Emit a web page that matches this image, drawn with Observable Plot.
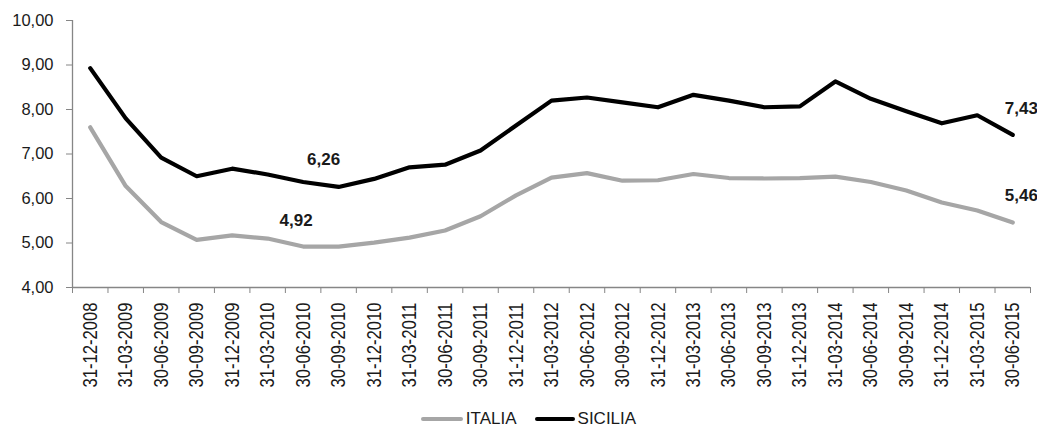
<!DOCTYPE html>
<html>
<head>
<meta charset="utf-8">
<script src="https://cdn.jsdelivr.net/npm/d3@7"></script>
<script src="https://cdn.jsdelivr.net/npm/@observablehq/plot@0.6"></script>
<style>
  html, body { margin: 0; padding: 0; background: #fff; }
  #chart { width: 1037px; }
  .legend { width: 1037px; height: 29px; display: flex; justify-content: center; align-items: center;
            padding-left: 20px; box-sizing: border-box; font-family: "Liberation Sans", Arial, sans-serif;
            font-size: 17px; color: #1a1a1a; }
  .legend .item { display: flex; align-items: center; }
  .legend .swatch { display: inline-block; height: 4px; margin-right: 3px; border-radius: 2px; }
</style>
</head>
<body>
<div id="chart"></div>
<script>
const dates = ["31-12-2008","31-03-2009","30-06-2009","30-09-2009","31-12-2009","31-03-2010","30-06-2010","30-09-2010","31-12-2010","31-03-2011","30-06-2011","30-09-2011","31-12-2011","31-03-2012","30-06-2012","30-09-2012","31-12-2012","31-03-2013","30-06-2013","30-09-2013","31-12-2013","31-03-2014","30-06-2014","30-09-2014","31-12-2014","31-03-2015","30-06-2015"];
const sicilia = [8.93,7.80,6.92,6.50,6.67,6.54,6.37,6.26,6.44,6.70,6.76,7.08,7.64,8.20,8.27,8.16,8.05,8.33,8.20,8.05,8.07,8.63,8.24,7.96,7.69,7.87,7.43];
const italia = [7.60,6.28,5.47,5.07,5.17,5.10,4.92,4.92,5.01,5.12,5.28,5.60,6.07,6.47,6.57,6.40,6.41,6.55,6.46,6.45,6.46,6.49,6.37,6.18,5.91,5.73,5.46];
const yTicks = [4,5,6,7,8,9,10];
const seriesNames = ["ITALIA","SICILIA"];
const seriesColors = ["#a6a6a6","#000000"];
// indices of the labelled points
const labelledSicilia = [7, 26];
const labelledItalia = [6, 26];

const fmt = v => v.toFixed(2).replace(".", ",");
const idx = dates.map((d, i) => i);
const rowsS = idx.map(i => ({i, v: sicilia[i]}));
const rowsI = idx.map(i => ({i, v: italia[i]}));
const boundaries = d3.range(dates.length + 1).map(i => i - 0.5);
const axisColor = "#868686";

const plot = Plot.plot({
  width: 1037,
  height: 404,
  marginLeft: 72,
  marginRight: 7,
  marginTop: 20,
  marginBottom: 117,
  style: {fontFamily: "'Liberation Sans', Arial, sans-serif", fontSize: "16.5px", color: "#1a1a1a", background: "#fff", overflow: "visible"},
  x: {type: "linear", domain: [-0.5, dates.length - 0.5]},
  y: {domain: [4, 10]},
  marks: [
    Plot.ruleY([4], {stroke: axisColor, strokeWidth: 1.3}),
    Plot.ruleX([-0.5], {y1: 4, y2: 10, stroke: axisColor, strokeWidth: 1.3}),
    Plot.axisY(yTicks, {tickFormat: fmt, tickSize: 6, tickPadding: 13, stroke: axisColor, label: null, fill: "#1a1a1a"}),
    Plot.axisX(boundaries, {tickFormat: () => "", tickSize: 6, stroke: axisColor, label: null}),
    Plot.axisX(idx, {tickFormat: i => dates[i], tickSize: 0, tickPadding: 15, tickRotate: -90, label: null, fill: "#1a1a1a",
      fontSize: 20.5}),
    Plot.line(rowsI, {x: "i", y: "v", stroke: seriesColors[0], strokeWidth: 4.2}),
    Plot.line(rowsS, {x: "i", y: "v", stroke: seriesColors[1], strokeWidth: 4.2}),
    Plot.text(rowsS.filter(d => d.i === labelledSicilia[0]), {x: "i", y: "v", text: d => fmt(d.v), dx: -15, dy: -27, fontWeight: "bold", fontSize: 17, fill: "#1a1a1a"}),
    Plot.text(rowsI.filter(d => d.i === labelledItalia[0]), {x: "i", y: "v", text: d => fmt(d.v), dx: -7, dy: -26, fontWeight: "bold", fontSize: 17, fill: "#1a1a1a"}),
    Plot.text(rowsS.filter(d => d.i === labelledSicilia[1]), {x: "i", y: "v", text: d => fmt(d.v), dx: -8, dy: -26, textAnchor: "start", fontWeight: "bold", fontSize: 17, fill: "#1a1a1a"}),
    Plot.text(rowsI.filter(d => d.i === labelledItalia[1]), {x: "i", y: "v", text: d => fmt(d.v), dx: -8, dy: -27, textAnchor: "start", fontWeight: "bold", fontSize: 17, fill: "#1a1a1a"})
  ]
});
// condense the rotated date labels (the original uses a narrow face)
plot.querySelectorAll('g[aria-label="x-axis tick label"] text').forEach(t => {
  if (t.textContent.length > 0) {
    t.setAttribute("textLength", "85");
    t.setAttribute("lengthAdjust", "spacingAndGlyphs");
  }
});
document.getElementById("chart").appendChild(plot);

const legend = document.createElement("div");
legend.className = "legend";
seriesNames.forEach((name, k) => {
  const item = document.createElement("span");
  item.className = "item";
  item.style.marginRight = k === 0 ? "18px" : "0";
  const sw = document.createElement("span");
  sw.className = "swatch";
  sw.style.width = (k === 0 ? 42 : 40) + "px";
  sw.style.background = seriesColors[k];
  const t = document.createElement("span");
  t.textContent = name;
  item.appendChild(sw);
  item.appendChild(t);
  legend.appendChild(item);
});
document.body.appendChild(legend);
</script>
</body>
</html>
